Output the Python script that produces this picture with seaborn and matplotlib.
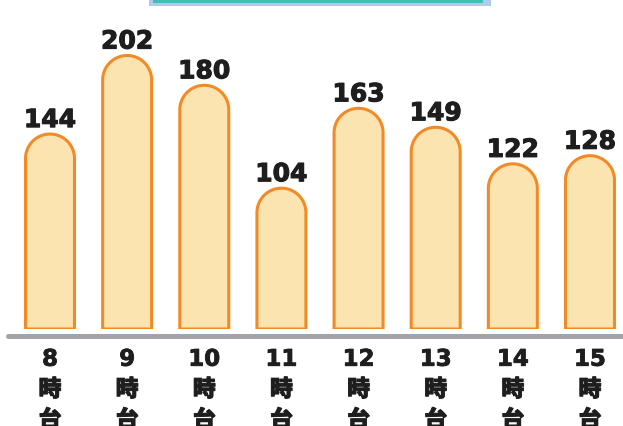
import numpy as np
import pandas as pd
import matplotlib
matplotlib.use("Agg")
import matplotlib.pyplot as plt
import matplotlib.patheffects as pe
import seaborn as sns
from matplotlib.path import Path
from matplotlib.patches import PathPatch, Rectangle

hours = ["8", "9", "10", "11", "12", "13", "14", "15"]
values = [144, 202, 180, 104, 163, 149, 122, 128]
tick_labels = [f"{h}\n時\n台" for h in hours]

FILL = "#FCE4B0"
EDGE = "#F28B27"
TXT = "#1E1E1E"

sns.set_theme(style="white")
plt.rcParams["font.family"] = ["DejaVu Sans", "Noto Sans CJK JP"]

W, H, DPI = 623, 427, 100
fig = plt.figure(figsize=(W / DPI, H / DPI), dpi=DPI)

ax_left, ax_right = 8, 623
ax_bottom_px = 330  # from top
ax = fig.add_axes([ax_left / W, (H - ax_bottom_px) / H, (ax_right - ax_left) / W, ax_bottom_px / H])

df = pd.DataFrame({"hour": hours, "value": values})
sns.barplot(data=df, x="hour", y="value", ax=ax, color=FILL, width=0.635,
            saturation=1, edgecolor=EDGE, linewidth=2.2)

spacing = 77.14
x0 = -(50 - ax_left) / spacing
x1 = x0 + (ax_right - ax_left) / spacing
ax.set_xlim(x0, x1)
px_per_unit = 273.5 / 202
ax.set_ylim(0, ax_bottom_px / px_per_unit)

thick = [pe.withStroke(linewidth=0.8, foreground=TXT)]

xpx = (ax_right - ax_left) / (x1 - x0)
for p in list(ax.patches):
    bx, bw, bh = p.get_x(), p.get_width(), p.get_height()
    rx = bw / 2
    ry = rx * xpx / px_per_unit
    cx = bx + rx
    t = np.linspace(np.pi, 0, 60)
    arc = np.column_stack([cx + rx * np.cos(t), bh - ry + ry * np.sin(t)])
    verts = np.vstack([[bx, 0], [bx, bh - ry], arc, [bx + bw, 0], [bx, 0]])
    codes = [Path.MOVETO] + [Path.LINETO] * (len(verts) - 2) + [Path.CLOSEPOLY]
    newp = PathPatch(Path(verts, codes), facecolor=FILL, edgecolor=EDGE,
                     linewidth=2.2, joinstyle="round", zorder=3)
    p.remove()
    ax.add_patch(newp)
    ax.annotate(f"{int(round(bh))}", (cx, bh), xytext=(0, 5), textcoords="offset points",
                ha="center", va="baseline", fontsize=18, fontweight="bold", color=TXT,
                path_effects=thick)

ax.axhline(-6.5 / px_per_unit, color="#A3A3AA", lw=3.6, clip_on=False, zorder=2)

ax.set_xticks(range(len(hours)))
ax.set_xticklabels(tick_labels, fontsize=16.5, fontweight="heavy", color=TXT, linespacing=1.42)
for lbl in ax.get_xticklabels():
    lbl.set_path_effects([pe.withStroke(linewidth=0.6, foreground=TXT)])
ax.tick_params(axis="x", length=0, pad=13.5)
ax.set_yticks([])
ax.set_xlabel("")
ax.set_ylabel("")
for s in ax.spines.values():
    s.set_visible(False)

fig.patches.append(Rectangle((149 / W, (H - 7) / H), (491 - 149) / W, 8 / H,
                             transform=fig.transFigure, facecolor="#AECBEA", edgecolor="none"))
fig.patches.append(Rectangle((153 / W, (H - 4) / H), (483 - 153) / W, 5 / H,
                             transform=fig.transFigure, facecolor="#41BFB2", edgecolor="none"))

fig.savefig("out.png", dpi=DPI)
